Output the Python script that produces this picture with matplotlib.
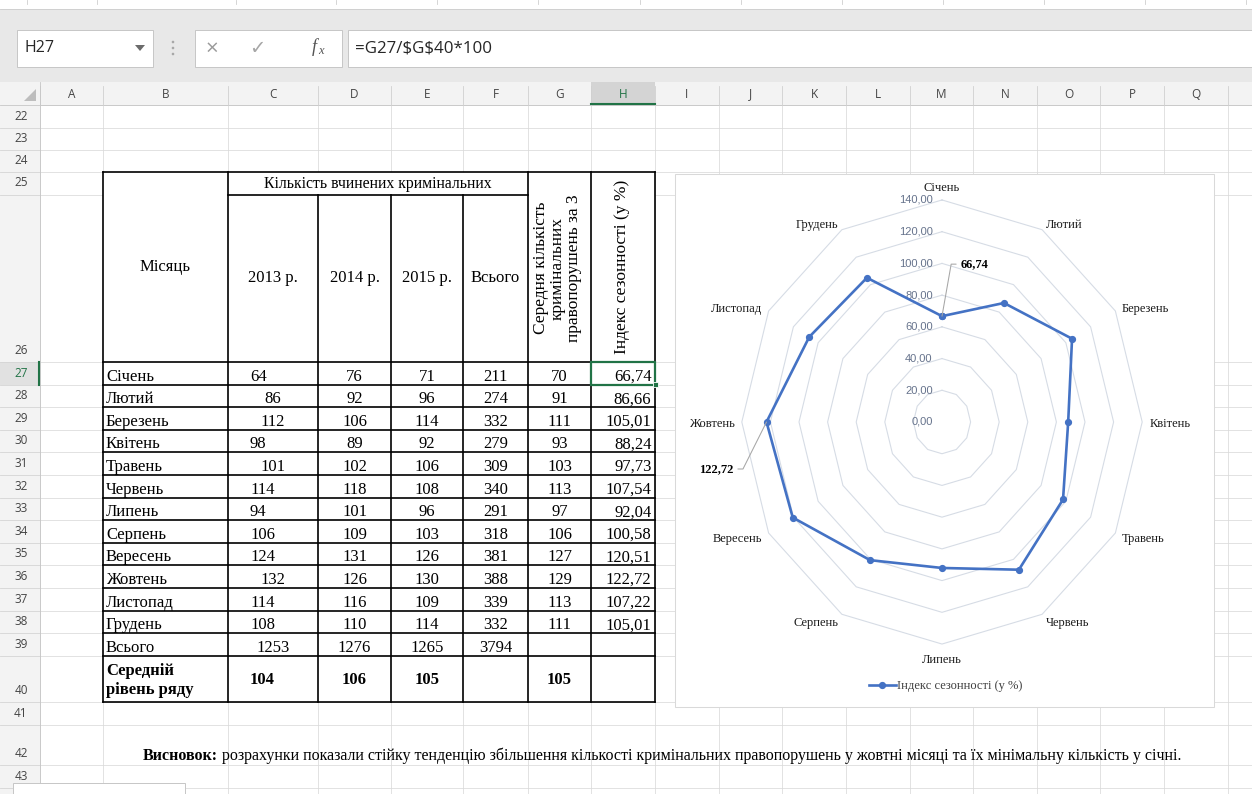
import numpy as np
import matplotlib
matplotlib.use("Agg")
import matplotlib.pyplot as plt
from matplotlib.patches import Rectangle, Polygon, Circle
from matplotlib.lines import Line2D

# ---------------- data ----------------
months = ["Січень", "Лютий", "Березень", "Квітень", "Травень", "Червень",
          "Липень", "Серпень", "Вересень", "Жовтень", "Листопад", "Грудень"]
crimes_2013 = [64, 86, 112, 98, 101, 114, 94, 106, 124, 132, 114, 108]
crimes_2014 = [76, 92, 106, 89, 102, 118, 101, 109, 131, 126, 116, 110]
crimes_2015 = [71, 96, 114, 92, 106, 108, 96, 103, 126, 130, 109, 114]
crimes_total = [211, 274, 332, 279, 309, 340, 291, 318, 381, 388, 339, 332]
crimes_mean3 = [70, 91, 111, 93, 103, 113, 97, 106, 127, 129, 113, 111]
season_index = [66.74, 86.66, 105.01, 88.24, 97.73, 107.54,
                92.04, 100.58, 120.51, 122.72, 107.22, 105.01]
year_totals = [1253, 1276, 1265, 3794]
year_means = [104, 106, 105]
mean_of_means = 105
radial_ticks = [0, 20, 40, 60, 80, 100, 120, 140]
year_headers = ["2013 р.", "2014 р.", "2015 р.", "Всього"]
col_letters = list("ABCDEFGHIJKLMNOPQ")
series_name = "Індекс сезонності (у %)"
formula = "=G27/$G$40*100"
conclusion_head = "Висновок:"
conclusion_body = (" розрахунки показали стійку тенденцію збільшення кількості "
                   "кримінальних правопорушень у жовтні місяці та їх мінімальну "
                   "кількість у січні.")

# horizontal placement of column C entries (left-indented or centred)
c_align = ["l", "c", "c", "l", "c", "l", "l", "l", "l", "c", "l", "l"]


def ua(v):
    return f"{v:.2f}".replace(".", ",")


# ---------------- canvas ----------------
W, H = 1252, 794
fig = plt.figure(figsize=(W / 100, H / 100), dpi=100)
fig.patch.set_facecolor("white")
sheet = fig.add_axes([0, 0, 1, 1])
sheet.set_xlim(0, W)
sheet.set_ylim(H, 0)
sheet.set_axis_off()

SERIF = ["Liberation Serif", "DejaVu Serif"]
UI = ["Open Sans", "DejaVu Sans"]
GRID = "#dadada"
GREEN = "#217346"


def box(x0, y0, x1, y1, fc, ec="none", lw=0.0, z=1):
    sheet.add_patch(Rectangle((x0, y0), x1 - x0, y1 - y0, facecolor=fc,
                              edgecolor=ec, linewidth=lw, zorder=z))


def hl(y, x0, x1, c, lw, z=2):
    sheet.plot([x0, x1], [y, y], color=c, lw=lw, zorder=z,
               solid_capstyle="projecting")


def vl(x, y0, y1, c, lw, z=2):
    sheet.plot([x, x], [y0, y1], color=c, lw=lw, zorder=z,
               solid_capstyle="projecting")


def txt(x, y, s, ha="left", va="baseline", size=12, bold=False,
        color="black", fam=SERIF, z=5, **kw):
    return sheet.text(x, y, s, ha=ha, va=va, fontsize=size,
                      fontweight="bold" if bold else "normal",
                      color=color, family=fam, zorder=z, **kw)


col_x = [40, 103, 228, 318, 391, 463, 528, 591, 655, 719, 782, 846,
         910, 973, 1037, 1100, 1164, 1228, 1292]
row_y = ([105, 128, 150, 172, 194.5, 362]
         + [362 + 22.6 * k for k in range(1, 14)]
         + [702, 725, 765, 788, 811])
row_nums = list(range(22, 22 + len(row_y) - 1))

# ---------------- ribbon / formula bar ----------------
box(0, 0, W, 9, "white", z=1)
for x in [27, 97, 236, 336, 437, 538, 640, 741, 842, 943, 1044, 1145, 1246]:
    vl(x, 0, 4, "#cfcfcf", 0.6)
box(0, 9, W, 82, "#e8e8e8", z=1)
hl(9.3, 0, W, "#cccccc", 0.6)

box(17, 30, 153, 67, "white", "#c6c6c6", 0.7, z=2)
txt(25, 48.5, "H27", va="center", size=11.5, color="#262626", fam=UI)
sheet.add_patch(Polygon([(135, 45), (145, 45), (140, 51)], closed=True,
                        facecolor="#6b6b6b", edgecolor="none", zorder=3))
for yy in (42, 48, 54):
    sheet.add_patch(Circle((173, yy), 1.3, facecolor="#a8a8a8",
                           edgecolor="none", zorder=3))
box(195, 30, 342, 67, "white", "#c6c6c6", 0.7, z=2)
txt(212, 49, "×", ha="center", va="center", size=16, color="#9a9a9a", fam=UI)
txt(257, 49, "✓", ha="center", va="center", size=14, color="#a6a6a6",
    fam=["DejaVu Sans"])
txt(314, 47, "f", ha="center", va="center", size=13, color="#555555",
    style="italic")
txt(320.5, 51, "x", ha="center", va="center", size=9, color="#555555",
    style="italic")
box(348, 30, W + 2, 67, "white", "#c6c6c6", 0.7, z=2)
txt(355, 48.5, formula, va="center", size=12.2, color="#262626", fam=UI,
    parse_math=False)

# ---------------- column headers ----------------
box(0, 82, W, 105, "#f3f3f3", z=1)
hl(104.6, 0, W, "#c6c6c6", 0.6)
box(col_x[7], 82, col_x[8], 104.6, "#d4d4d4", z=2)
sheet.add_patch(Polygon([(36, 89), (36, 101), (24, 101)], closed=True,
                        facecolor="#bdbdbd", edgecolor="none", zorder=3))
for x in col_x:
    vl(x, 86, 104.6, "#d0d0d0", 0.6)
for i, letter in enumerate(col_letters):
    xc = (col_x[i] + col_x[i + 1]) / 2
    txt(xc, 94, letter, ha="center", va="center", size=8.5,
        color=GREEN if letter == "H" else "#444444", fam=UI)
hl(103.5, col_x[7], col_x[8], GREEN, 1.5, z=3)

# ---------------- grid ----------------
for y in row_y:
    hl(y, 40, W, GRID, 0.55, z=1)
for x in col_x:
    vl(x, 105, H, GRID, 0.55, z=1)

# ---------------- row headers ----------------
box(0, 105, 40, H, "#f3f3f3", z=1.5)
for j, num in enumerate(row_nums):
    top, bot = row_y[j], row_y[j + 1]
    hl(bot, 0, 40, "#d5d5d5", 0.6, z=2)
    if num == 27:
        box(0, top, 40, bot, "#e1e1e1", z=1.8)
        vl(39, top, bot, GREEN, 1.5, z=3)
    if num <= 43:
        txt(21, bot - 11.5, str(num), ha="center", va="center", size=8.5,
            color=GREEN if num == 27 else "#444444", fam=UI)
vl(40, 82, H, "#c6c6c6", 0.6, z=2)

# ---------------- table ----------------
tx0, tx1 = col_x[1], col_x[8]
ty0, ty1 = row_y[3], row_y[19]
box(tx0, ty0, tx1, ty1, "white", z=3)
BL = 1.2
for y in [row_y[3]] + row_y[5:20]:
    hl(y, tx0, tx1, "black", BL, z=4)
hl(row_y[4], col_x[2], col_x[6], "black", BL, z=4)
for k in (1, 2, 6, 7, 8):
    vl(col_x[k], ty0, ty1, "black", BL, z=4)
for k in (3, 4, 5):
    vl(col_x[k], row_y[4], ty1, "black", BL, z=4)

ccol = [(col_x[k] + col_x[k + 1]) / 2 for k in range(len(col_x) - 1)]
C_LEFT = 250

# header
txt(ccol[1], (row_y[3] + row_y[5]) / 2, "Місяць", ha="center", va="center")
txt((col_x[2] + col_x[6]) / 2, (row_y[3] + row_y[4]) / 2 + 1,
    "Кількість вчинених кримінальних", ha="center", va="center", size=11.3)
for k, h in enumerate(year_headers):
    txt(ccol[2 + k], (row_y[4] + row_y[5]) / 2, h, ha="center", va="center")
txt(ccol[6] - 2, (row_y[3] + row_y[5]) / 2 + 1,
    "Середня кількість\nкримінальних\nправопорушень за 3", ha="center",
    va="center", rotation=90, multialignment="center", size=12.5,
    linespacing=1.05)
txt(ccol[7] - 1, (row_y[3] + row_y[5]) / 2, series_name, ha="center",
    va="center", rotation=90, size=12.5)


def put_c(value, align, base, bold=False):
    if align == "c":
        txt(ccol[2], base, str(value), ha="center", bold=bold)
    else:
        txt(C_LEFT, base, str(value), ha="left", bold=bold)


# month rows
for i, m in enumerate(months):
    base = row_y[6 + i] - 4
    txt(tx0 + 3, base, m)
    put_c(crimes_2013[i], c_align[i], base)
    txt(ccol[3], base, str(crimes_2014[i]), ha="center")
    txt(ccol[4], base, str(crimes_2015[i]), ha="center")
    txt(ccol[5], base, str(crimes_total[i]), ha="center")
    txt(ccol[6], base, str(crimes_mean3[i]), ha="center")
    txt(col_x[8] - 3.5, base, ua(season_index[i]), ha="right")

# totals row
base = row_y[18] - 4
txt(tx0 + 3, base, "Всього")
put_c(year_totals[0], "c", base)
for k in range(1, 4):
    txt(ccol[2 + k], base, str(year_totals[k]), ha="center")

# means row
ymid = (row_y[18] + row_y[19]) / 2
txt(tx0 + 3, 675, "Середній", bold=True)
txt(tx0 + 3, 694, "рівень ряду", bold=True)
put_c(year_means[0], "l", ymid + 5.5, bold=True)
txt(ccol[3], ymid + 5.5, str(year_means[1]), ha="center", bold=True)
txt(ccol[4], ymid + 5.5, str(year_means[2]), ha="center", bold=True)
txt(ccol[6], ymid + 5.5, str(mean_of_means), ha="center", bold=True)

# active cell H27
sheet.add_patch(Rectangle((col_x[7], row_y[5]), col_x[8] - col_x[7],
                          row_y[6] - row_y[5], facecolor="none",
                          edgecolor=GREEN, linewidth=1.6, zorder=6))
sheet.add_patch(Rectangle((col_x[8] - 2.5, row_y[6] - 2.5), 5, 5,
                          facecolor=GREEN, edgecolor="white", linewidth=0.6,
                          zorder=7))

# conclusion line
t_head = txt(143, 760, conclusion_head, bold=True, size=11.5)
sheet.annotate(conclusion_body, xy=(1, 0), xycoords=t_head, ha="left",
               va="bottom", fontsize=11.5, family=SERIF, color="black",
               zorder=5)

# sheet tab stub at the bottom
box(13, 783, 185, 800, "white", "#c6c6c6", 0.7, z=7)

# ---------------- radar chart ----------------
box(674.5, 174, 1213.5, 706.5, "white", "#d9d9d9", 0.75, z=3)

cx, cy = 942, 422
kx, ky = 1.43, 1.586
R = 160
rad = fig.add_axes([(cx - R * kx) / W, (H - cy - R * ky) / H,
                    2 * R * kx / W, 2 * R * ky / H])
rad.set_zorder(5)
rad.set_xlim(-R, R)
rad.set_ylim(-R, R)
rad.set_axis_off()
rad.patch.set_alpha(0)

theta = 2 * np.pi * np.arange(len(months)) / len(months)
sn, cs = np.sin(theta), np.cos(theta)

for r in radial_ticks:
    if r > 0:
        rad.plot(np.append(r * sn, r * sn[0]), np.append(r * cs, r * cs[0]),
                 color="#d6dce5", lw=0.8, zorder=1)
    rad.text(-6.5, r, ua(r), ha="right", va="center", fontsize=8,
             color="#66738c", family=["Liberation Sans"], zorder=2)

vals = np.array(season_index)
px, py = vals * sn, vals * cs
LINE = "#4472c4"
rad.plot(np.append(px, px[0]), np.append(py, py[0]), color=LINE, lw=1.9,
         marker="o", ms=4.2, zorder=4)

LR = 145
for i, m in enumerate(months):
    ha = "center" if abs(sn[i]) < 0.01 else ("left" if sn[i] > 0 else "right")
    va = "bottom" if cs[i] > 0.99 else ("top" if cs[i] < -0.99 else "center")
    rad.annotate(m, xy=(LR * sn[i], LR * cs[i]), xytext=(0, -2),
                 textcoords="offset pixels", ha=ha, va=va, fontsize=9,
                 family=SERIF, color="#1a1a1a", zorder=3)

leader = dict(arrowstyle="-", color="#a6a6a6", lw=0.75, shrinkA=1.5,
              shrinkB=0)
rad.annotate(ua(season_index[0]), xy=(px[0], py[0]), xytext=(19, 52),
             textcoords="offset pixels", ha="left", va="center", fontsize=9,
             fontweight="bold", family=SERIF, zorder=6,
             arrowprops=dict(leader, relpos=(0, 0.5),
                             connectionstyle="angle,angleA=0,angleB=80,rad=0"))
rad.annotate(ua(season_index[9]), xy=(px[9], py[9]), xytext=(-33.5, -47),
             textcoords="offset pixels", ha="right", va="center", fontsize=9,
             fontweight="bold", family=SERIF, zorder=6,
             arrowprops=dict(leader, relpos=(1, 0.5),
                             connectionstyle="angle,angleA=0,angleB=63.4,rad=0"))

handle = Line2D([], [], color=LINE, lw=1.9, marker="o", ms=4.2)
rad.legend([handle], [series_name], loc="center",
           bbox_to_anchor=(946 / W, 1 - 686 / H),
           bbox_transform=fig.transFigure, frameon=False,
           prop=dict(family=SERIF, size=9), labelcolor="#404040",
           handlelength=2.1, handletextpad=0.15, borderpad=0)

fig.savefig("out.png", dpi=100, facecolor="white")
